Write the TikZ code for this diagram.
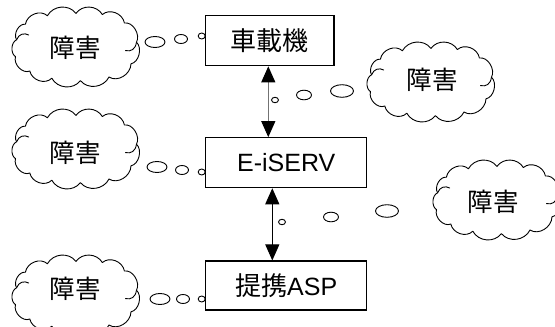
\documentclass[tikz,border=0pt]{standalone}
\usepackage{fontspec}
\setmainfont{Liberation Sans}
\newfontfamily\jpfont{Noto Sans CJK JP}
\usetikzlibrary{arrows.meta}

\tikzset{
  box/.style={draw=black, line width=1.1pt, minimum height=50pt, inner sep=0pt,
    font=\fontsize{25}{30}\selectfont},
  cloudline/.style={line width=0.9pt, line join=round, line cap=round},
  bubble/.style={line width=0.9pt},
  dbl/.style={line width=1.1pt,
    {Triangle[length=16pt,width=14pt,color=black]}-{Triangle[length=16pt,width=14pt,color=black]}},
  lbl/.style={font=\jpfont\fontsize{25.5}{30}\selectfont, inner sep=0pt},
  pics/trouble/.style={code={
    \begin{scope}[xscale=1.1, yscale=1.2]
    % outline of puffs, traced clockwise
    \draw[cloudline] (-54,-6) to[bend left=65] (-46,-19) to[bend left=60] (-26,-26)
      to[bend left=55] (0,-28) to[bend left=55] (24,-27) to[bend left=60] (44,-20)
      to[bend left=65] (55,-4) to[bend left=65] (50,14) to[bend left=60] (30,25)
      to[bend left=55] (4,28) to[bend left=55] (-22,26) to[bend left=60] (-42,20)
      to[bend left=65] (-55,8) to[bend left=65] (-54,-6);
    % little inward curls
    \draw[cloudline] (-54,-6) .. controls (-52,-11) and (-47,-12) .. (-43,-10);
    \draw[cloudline] (55,-4) .. controls (54,2) and (50,4) .. (45,3);
    \end{scope}
  }}
}

\begin{document}
\begin{tikzpicture}[x=1pt,y=-1pt]
\useasboundingbox (0,0) rectangle (555,327);
\clip (0,0) rectangle (555,327);

% the three systems
\node[box, minimum width=128.3pt] (car) at (269.8,40.8) {\jpfont\fontsize{26}{30}\selectfont 車載機};
\node[box, minimum width=161pt] (srv) at (286.2,162.7) {E-iSERV};
\node[box, minimum width=161pt, minimum height=49pt] (asp) at (286.2,285.5) {{\jpfont\fontsize{26}{30}\selectfont 提携}ASP};

% two-way links
\coordinate (ax1) at (268.3,0);
\coordinate (ax2) at (272.3,0);
\draw[dbl, draw=black!55] (ax1 |- car.south) -- (ax1 |- srv.north);
\draw[dbl, line width=0.9pt] (ax2 |- srv.south) -- (ax2 |- asp.north);

% trouble clouds
\pic at (76,47) {trouble};
\node[lbl] (c1) at (75,48) {障害};
\pic at (76,149) {trouble};
\node[lbl] (c2) at (75,153) {障害};
\pic at (76,295) {trouble};
\node[lbl] (c3) at (75,289) {障害};
\pic at (431,82) {trouble};
\node[lbl] (c4) at (432,80) {障害};
\pic at (497,200) {trouble};
\node[lbl] (c5) at (493,202) {障害};

% thought bubbles, left side
\draw[bubble] (155,42) ellipse [x radius=10pt, y radius=5.5pt];
\draw[bubble] (181,39) ellipse [x radius=6.5pt, y radius=4.5pt];
\draw[bubble] (201.7,36) ellipse [x radius=3.5pt, y radius=3pt];
\draw[bubble] (157,167) ellipse [x radius=10pt, y radius=5.5pt];
\draw[bubble] (182,170) ellipse [x radius=6.5pt, y radius=4.5pt];
\draw[bubble] (201.7,172) ellipse [x radius=3.5pt, y radius=3pt];
\draw[bubble] (160,299) ellipse [x radius=10pt, y radius=5.5pt];
\draw[bubble] (183,299) ellipse [x radius=6.5pt, y radius=4.5pt];
\draw[bubble] (201.7,299) ellipse [x radius=3.5pt, y radius=3pt];

% thought bubbles, right side
\draw[bubble] (275,100) ellipse [x radius=3.5pt, y radius=2.7pt];
\draw[bubble] (304,95) ellipse [x radius=7.5pt, y radius=4.8pt];
\draw[bubble] (342,91) ellipse [x radius=11.5pt, y radius=6.3pt];
\draw[bubble] (282,222) ellipse [x radius=3.5pt, y radius=2.7pt];
\draw[bubble] (331,217) ellipse [x radius=7.5pt, y radius=4.8pt];
\draw[bubble] (387,211) ellipse [x radius=11.5pt, y radius=6.3pt];
\end{tikzpicture}
\end{document}
